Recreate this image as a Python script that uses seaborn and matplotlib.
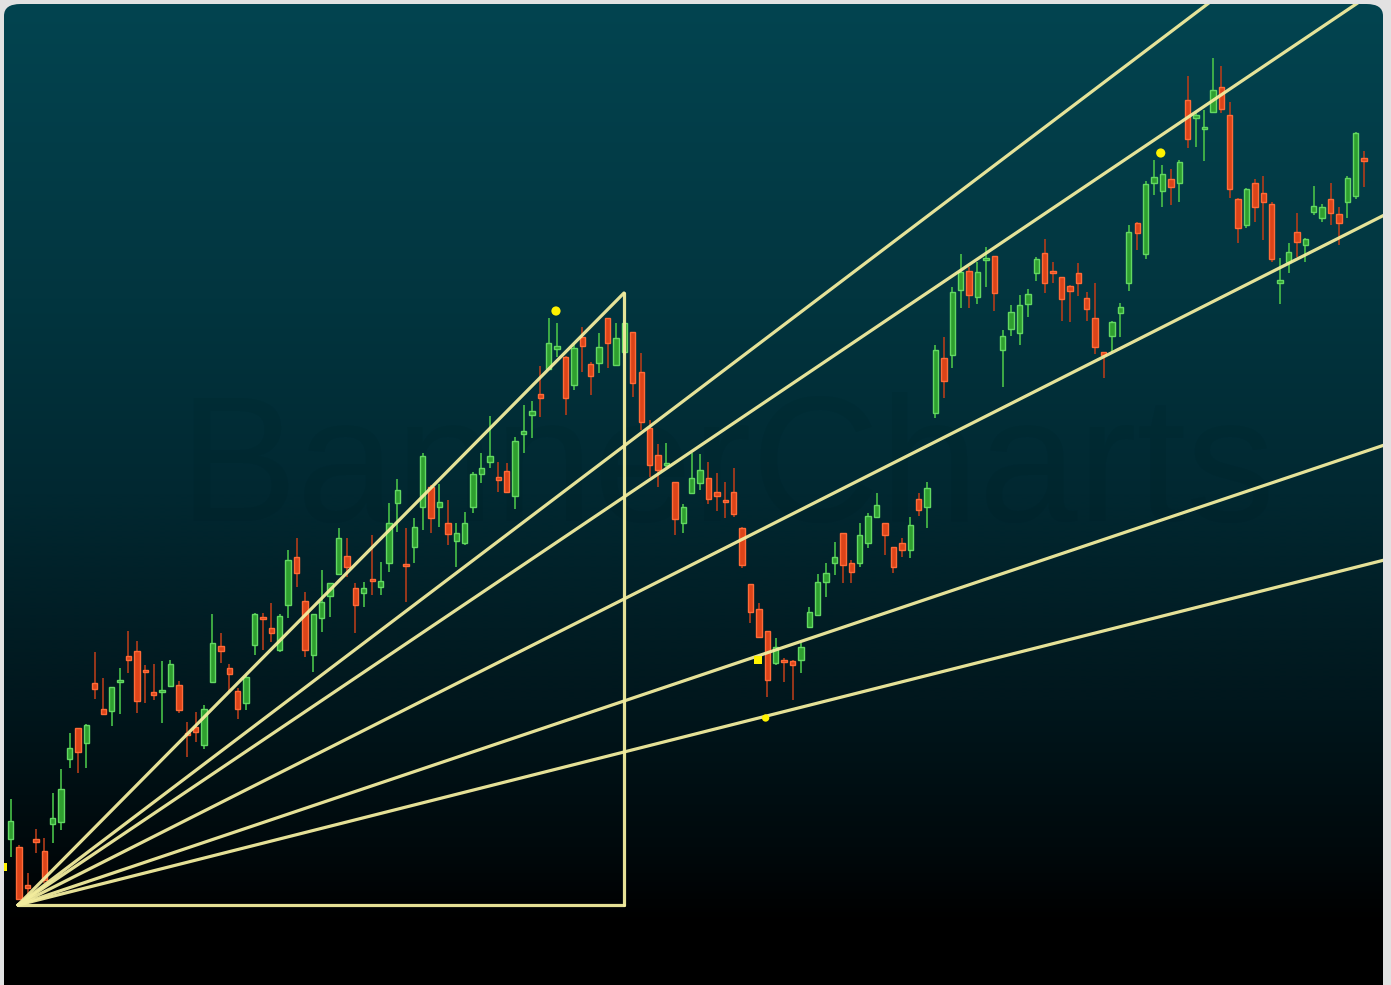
import numpy as np
import pandas as pd
import matplotlib
matplotlib.use("Agg")
import matplotlib.pyplot as plt
import seaborn as sns
from matplotlib.patches import FancyBboxPatch

sns.set_theme(style="dark")
plt.rcParams["font.family"] = ["Liberation Sans", "DejaVu Sans"]

# ---------------- data ----------------
opens = [106.6, 105.8, 101.9, 106.5, 105.4, 108.1, 108.3, 114.6, 117.7, 116.2,
         122.2, 119.6, 119.4, 122.3, 124.9, 125.4, 123.5, 121.2, 121.3, 121.9,
         122.0, 117.2, 117.8, 116.0, 122.3, 125.9, 123.7, 121.4, 120.2, 126.0,
         128.8, 127.7, 125.5, 130.0, 134.8, 130.4, 125.0, 128.7, 130.9, 133.1,
         134.9, 131.7, 131.2, 132.6, 131.8, 134.2, 140.2, 134.1, 135.8, 139.8,
         141.8, 139.8, 138.2, 136.4, 136.2, 139.8, 143.1, 144.3, 142.7, 143.4,
         140.9, 147.2, 149.0, 151.1, 153.6, 155.6, 154.8, 152.0, 156.8, 154.1,
         154.2, 158.7, 154.0, 155.3, 157.3, 153.3, 147.7, 145.0, 144.0, 142.3,
         138.2, 141.2, 142.2, 142.7, 141.3, 140.5, 141.3, 137.7, 132.1, 129.6,
         127.4, 124.2, 124.5, 124.4, 124.5, 127.8, 129.0, 132.3, 134.2, 137.2,
         134.2, 134.2, 136.2, 138.8, 138.2, 135.8, 136.2, 135.5, 140.6, 139.8,
         149.2, 154.7, 155.0, 161.5, 163.4, 160.8, 164.5, 164.9, 155.5, 157.6,
         157.2, 160.1, 163.2, 165.2, 163.4, 162.8, 161.9, 163.2, 160.7, 158.7,
         155.3, 156.9, 159.2, 162.2, 168.2, 165.1, 172.2, 171.4, 172.6, 172.2,
         180.5, 178.8, 177.6, 179.3, 181.8, 179.0, 170.6, 168.0, 172.2, 171.2,
         170.1, 162.2, 164.3, 167.3, 166.0, 169.3, 168.7, 170.6, 169.1, 170.3,
         170.9, 174.6]
highs = [110.6, 106.0, 103.2, 107.6, 106.7, 111.2, 113.6, 117.2, 117.7, 118.1,
         125.3, 122.7, 121.8, 123.7, 127.4, 126.4, 124.0, 124.1, 124.4, 124.5,
         122.4, 118.3, 119.3, 120.0, 129.1, 127.2, 124.1, 121.7, 123.0, 129.2,
         129.2, 130.2, 129.1, 135.5, 136.7, 131.3, 129.1, 133.5, 132.2, 137.7,
         136.7, 132.2, 132.3, 137.0, 134.3, 140.2, 142.6, 137.7, 138.7, 145.2,
         142.0, 142.1, 140.5, 138.2, 139.3, 143.3, 145.2, 148.9, 144.3, 144.2,
         146.8, 150.0, 150.4, 153.9, 158.7, 158.2, 154.9, 156.0, 157.8, 154.3,
         157.2, 158.7, 158.2, 158.5, 157.3, 155.2, 148.5, 146.1, 146.2, 142.3,
         140.1, 145.2, 145.1, 144.3, 143.2, 142.3, 143.7, 137.8, 132.1, 130.2,
         127.4, 126.7, 124.7, 124.5, 126.2, 129.8, 133.1, 134.2, 136.3, 137.2,
         134.5, 138.2, 139.2, 141.2, 138.2, 135.8, 136.7, 138.8, 141.2, 142.3,
         156.0, 156.8, 161.8, 165.1, 163.8, 164.3, 165.8, 164.9, 157.5, 160.0,
         161.0, 161.6, 164.8, 166.6, 164.3, 162.8, 162.0, 164.2, 161.3, 162.2,
         155.3, 158.4, 160.2, 168.0, 168.3, 172.4, 174.5, 174.0, 173.6, 174.5,
         182.9, 179.2, 179.5, 184.7, 183.9, 180.3, 170.7, 171.7, 172.6, 172.9,
         170.3, 164.7, 166.2, 169.2, 166.7, 171.9, 170.1, 172.2, 169.8, 172.9,
         177.3, 175.4]
lows = [104.8, 100.5, 100.3, 105.2, 102.2, 106.2, 107.5, 113.7, 113.2, 113.7,
        120.6, 119.0, 117.9, 119.1, 123.2, 119.2, 120.2, 120.5, 118.2, 121.8,
        119.2, 114.8, 116.3, 115.6, 122.2, 124.2, 121.3, 118.6, 119.5, 125.0,
        125.5, 126.3, 125.3, 128.7, 131.8, 124.8, 123.3, 127.3, 128.8, 133.0,
        132.8, 127.2, 129.8, 131.0, 131.0, 133.3, 137.3, 130.3, 134.2, 137.5,
        137.2, 137.8, 136.0, 133.8, 136.0, 139.2, 142.2, 143.7, 141.3, 141.3,
        139.6, 145.2, 146.7, 148.8, 153.5, 154.8, 149.0, 151.5, 153.3, 151.0,
        153.2, 153.7, 154.0, 155.0, 150.8, 147.5, 142.8, 141.8, 143.8, 137.0,
        137.2, 141.1, 141.5, 140.1, 139.4, 138.7, 138.8, 133.7, 128.2, 126.8,
        120.8, 124.0, 122.3, 120.5, 123.2, 127.7, 129.0, 130.8, 133.0, 132.2,
        132.2, 133.8, 135.7, 138.8, 135.0, 133.2, 134.8, 134.7, 138.9, 137.7,
        148.7, 150.7, 153.7, 159.7, 159.7, 160.1, 161.8, 159.4, 151.8, 156.9,
        156.0, 158.8, 162.4, 161.2, 162.2, 158.4, 158.3, 160.9, 158.4, 155.1,
        152.7, 155.3, 156.8, 161.4, 165.5, 164.6, 171.0, 169.8, 170.0, 170.3,
        175.7, 175.8, 174.4, 179.3, 179.2, 170.7, 166.2, 167.7, 168.3, 166.5,
        164.3, 160.1, 163.2, 164.8, 164.3, 169.0, 168.3, 168.0, 166.0, 168.7,
        170.6, 171.8]
closes = [108.4, 100.6, 101.8, 106.4, 102.5, 108.7, 111.6, 115.7, 115.3, 118.0,
          121.6, 119.1, 121.8, 122.5, 124.5, 120.4, 123.3, 121.1, 121.5, 124.1,
          119.5, 117.0, 117.3, 119.6, 126.2, 125.4, 123.1, 119.6, 122.8, 129.1,
          128.6, 127.2, 128.9, 134.5, 133.2, 125.5, 129.1, 130.3, 132.2, 136.7,
          133.8, 130.0, 131.7, 132.4, 132.4, 138.2, 141.5, 133.9, 137.8, 144.9,
          138.7, 140.3, 137.1, 137.2, 138.2, 143.1, 143.7, 144.9, 142.6, 141.3,
          146.4, 147.3, 149.4, 150.7, 156.2, 155.9, 150.7, 155.7, 155.9, 152.9,
          155.8, 156.2, 156.7, 158.2, 152.2, 148.3, 144.0, 143.5, 144.2, 138.6,
          139.8, 142.7, 143.5, 140.6, 140.9, 140.3, 139.1, 134.0, 129.3, 126.8,
          122.5, 125.8, 124.3, 124.0, 125.8, 129.3, 132.3, 133.2, 134.8, 134.0,
          133.3, 137.0, 138.9, 140.0, 137.0, 133.8, 135.5, 138.0, 139.5, 141.7,
          155.5, 152.4, 161.3, 163.3, 161.0, 163.3, 164.7, 161.2, 156.9, 159.3,
          160.0, 161.1, 164.6, 162.2, 163.2, 160.6, 161.4, 162.2, 159.6, 155.8,
          155.0, 158.3, 159.8, 167.3, 167.2, 172.1, 172.8, 173.1, 171.8, 174.3,
          176.6, 178.9, 177.8, 181.5, 179.6, 171.6, 167.7, 171.6, 169.8, 170.3,
          164.6, 162.5, 165.3, 166.3, 166.6, 169.9, 169.8, 169.2, 168.2, 172.7,
          177.2, 174.5]

# fan: anchor start / end (bar index, price) and fan ratios
fan_start = (0.87, 100.0)
fan_end = (72.95, 161.2)
fan_ratios = [1.0, 0.75, 2 / 3, 0.5, 1 / 3, 0.25]

# yellow markers
dot_x = [64.86, 136.8, 89.8]
dot_y = [159.4, 175.2, 118.7]
dot_size = [44, 44, 28]
square_x = [88.9, -0.9]
square_y = [124.5, 103.8]

watermark = "BannerCharts"

# ---------------- layout ----------------
XMIN, XMAX = -0.80, 163.24
YMIN, YMAX = 92.0, 190.1

fig = plt.figure(figsize=(13.91, 9.85), dpi=100)
fig.patch.set_facecolor("#e2e2e2")
ax = fig.add_axes([4 / 1391, 0, 1379 / 1391, 981 / 985])
ax.set_xlim(XMIN, XMAX)
ax.set_ylim(YMIN, YMAX)
ax.set_axis_off()

# background gradient
stops_pos = [0.0, 0.30, 0.50, 0.71, 0.86, 0.94, 1.0]
stops_col = np.array([[3, 68, 80], [2, 53, 63], [1, 40, 49], [1, 23, 29],
                      [0, 9, 12], [0, 0, 0], [0, 0, 0]]) / 255.0
t = np.linspace(0, 1, 600)
grad = np.stack([np.interp(t, stops_pos, stops_col[:, k]) for k in range(3)], axis=1)
grad = grad[:, None, :]
im = ax.imshow(grad, extent=[XMIN, XMAX, YMIN, YMAX], aspect="auto",
               origin="upper", zorder=0, interpolation="bilinear")
clip = FancyBboxPatch((0, -0.05), 1, 1.05, boxstyle="round,pad=0,rounding_size=0.012",
                      transform=ax.transAxes, facecolor="none", edgecolor="none")
im.set_clip_path(clip)

# watermark (very faint)
ax.text((XMIN + XMAX) / 2 + 4, 143.0, watermark, ha="center", va="center",
        fontsize=128, color=(0, 0, 0, 0.045), zorder=1)

# ---------------- candles ----------------
df = pd.DataFrame({"idx": np.arange(len(opens)), "open": opens, "high": highs,
                   "low": lows, "close": closes})
df["bull"] = df["close"] >= df["open"]
styles = {True: dict(fill="#2f9f2f", edge="#63d863", wick="#48c048"),
          False: dict(fill="#dc4419", edge="#ff6b38", wick="#b23c1a")}
for bull, sub in df.groupby("bull"):
    st = styles[bull]
    ax.vlines(sub["idx"], sub["low"], sub["high"], color=st["wick"], lw=1.2, zorder=2)
    span = (sub["close"] - sub["open"]).abs()
    h = np.maximum(span, 0.25)
    bottom = np.minimum(sub["open"], sub["close"]) - (h - span) / 2
    ax.bar(sub["idx"], h, bottom=bottom, width=0.64, color=st["fill"],
           edgecolor=st["edge"], linewidth=1.0, zorder=3)

# ---------------- fan lines ----------------
x0, y0 = fan_start
x1, y1 = fan_end
rows = []
for k, r in enumerate(fan_ratios):
    yr = y0 + r * (y1 - y0)
    slope = (yr - y0) / (x1 - x0)
    xe = x1 if r == 1.0 else XMAX + 1
    rows += [dict(seg=k, x=x0, y=y0), dict(seg=k, x=xe, y=y0 + slope * (xe - x0))]
rows += [dict(seg=10, x=x0, y=y0), dict(seg=10, x=x1, y=y0)]
rows += [dict(seg=11, x=x1, y=y0), dict(seg=11, x=x1, y=y1)]
seg = pd.DataFrame(rows)
sns.lineplot(data=seg, x="x", y="y", units="seg", estimator=None, sort=False,
             color="#f3ed9e", lw=2.3, ax=ax, legend=False, zorder=4, alpha=0.95)

# ---------------- yellow markers ----------------
sns.scatterplot(x=dot_x, y=dot_y, size=dot_size, sizes=(28, 44), color="#fff200",
                edgecolor="none", marker="o", ax=ax, legend=False, zorder=5)
sns.scatterplot(x=square_x, y=square_y, s=36, color="#fff200", edgecolor="none",
                marker="s", ax=ax, legend=False, zorder=5)

ax.set_xlim(XMIN, XMAX)
ax.set_ylim(YMIN, YMAX)
ax.set_xlabel("")
ax.set_ylabel("")

fig.savefig("out.png", dpi=100, facecolor=fig.get_facecolor())
